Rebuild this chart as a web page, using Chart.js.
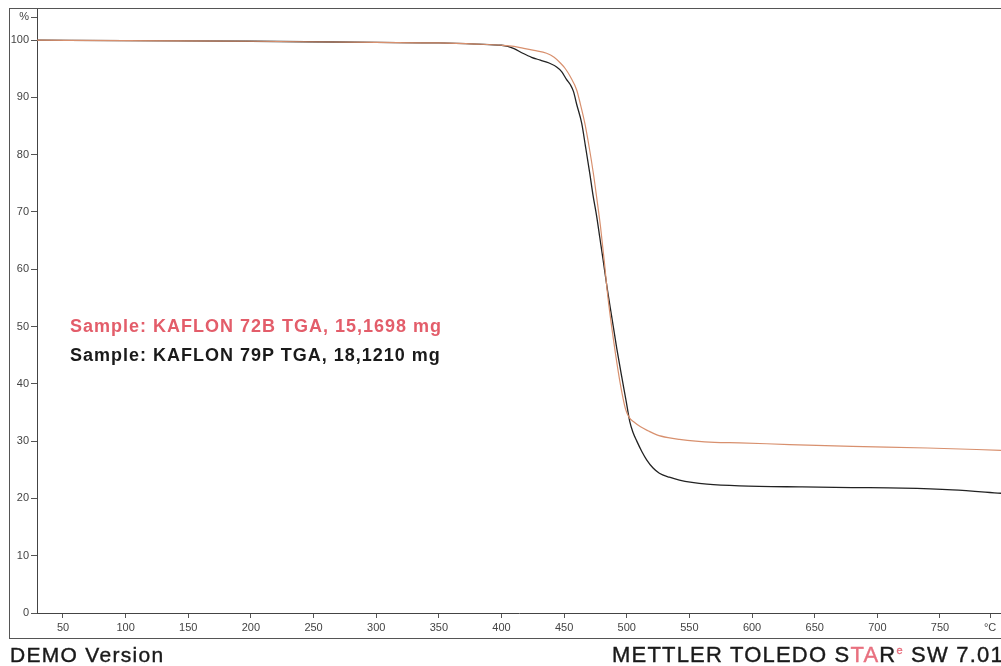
<!DOCTYPE html>
<html>
<head>
<meta charset="utf-8">
<script src="https://cdn.jsdelivr.net/npm/chart.js@4"></script>
<style>
  body { margin: 0; background: #fff; }
  #wrap { position: relative; width: 1001px; height: 666px; overflow: hidden; font-family: "Liberation Sans", Arial, sans-serif; }
  #tga { position: absolute; left: 0; top: 0; }
  .frame { position: absolute; left: 9px; top: 8px; width: 1010px; height: 629px; border: 1px solid #555; border-right: none; pointer-events: none; }
  .sample { position: absolute; left: 70px; font-size: 18px; font-weight: bold; letter-spacing: 1px; white-space: nowrap; }
  .foot { position: absolute; font-size: 21px; white-space: nowrap; color: #1a1a1a; -webkit-text-stroke: 0.4px #1a1a1a; }
  .pink { color: #e8707f; -webkit-text-stroke-color: #e8707f; }
</style>
</head>
<body>
<div id="wrap">
  <canvas id="tga" width="1001" height="666"></canvas>
  <div class="frame"></div>
  <div class="sample" style="top:316px;color:#e35d6a">Sample: KAFLON 72B TGA, 15,1698 mg</div>
  <div class="sample" style="top:345px;color:#1a1a1a">Sample: KAFLON 79P TGA, 18,1210 mg</div>
  <div class="foot" style="left:10px;top:643px;letter-spacing:1.3px">DEMO Version</div>
  <div class="foot" style="left:612px;top:642px;font-size:22px;letter-spacing:1.2px">METTLER TOLEDO S<span class="pink">TA</span>R<sup class="pink" style="font-size:11px">e</sup> SW 7.01</div>
</div>
<script>
// temperature (°C) and mass (%)
const temp72B = [29, 100, 200, 300, 350, 380, 400, 410, 417, 426, 436, 442, 447, 451, 455, 460, 463, 466.5, 470, 473.5, 476, 479, 482, 485, 489, 493, 496, 499, 502, 506, 511, 517, 524, 533, 542, 555, 570, 590, 630, 680, 740, 799];
const mass72B = [100, 99.9, 99.8, 99.6, 99.5, 99.3, 99.1, 98.9, 98.6, 98.2, 97.7, 97.0, 96.0, 95.0, 93.6, 91.3, 88.8, 85.5, 81.3, 76.5, 72.5, 67.5, 61.5, 55.0, 48.3, 42.4, 38.6, 35.6, 34.1, 33.3, 32.5, 31.8, 31.1, 30.6, 30.3, 30.0, 29.8, 29.7, 29.4, 29.1, 28.8, 28.4];

const temp79P = [29, 100, 200, 300, 350, 380, 400, 405, 410, 417, 424, 431, 438, 444, 448, 452, 455, 457.5, 460, 464, 467, 470.5, 473, 476, 478.5, 481, 484.5, 488, 492, 496, 499.5, 502.5, 505, 508, 512, 516, 521, 526, 534, 542, 552, 564, 590, 640, 680, 720, 760, 799];
const mass79P = [100, 99.9, 99.8, 99.6, 99.5, 99.3, 99.1, 98.9, 98.5, 97.7, 97.0, 96.5, 96.0, 95.3, 94.5, 93.1, 92.2, 91.0, 88.8, 85.5, 81.5, 76.7, 73.0, 69.2, 65.5, 61.8, 56.5, 51.7, 46.2, 41.2, 37.0, 33.3, 31.5, 30.0, 28.2, 26.7, 25.3, 24.4, 23.7, 23.2, 22.8, 22.5, 22.2, 22.0, 21.9, 21.8, 21.5, 20.9];

const xLabels = [50, 100, 150, 200, 250, 300, 350, 400, 450, 500, 550, 600, 650, 700, 750];
const yLabels = [0, 10, 20, 30, 40, 50, 60, 70, 80, 90, 100];

const xTicks = [];
for (let t = 30; t <= 790; t += 10) xTicks.push(t);
const yTicks = [];
for (let p = 0; p <= 104; p += 2) yTicks.push(p);

const toPoints = (xs, ys) => xs.map((x, i) => ({ x: x, y: ys[i] }));

new Chart(document.getElementById('tga'), {
  type: 'line',
  data: {
    datasets: [
      { label: 'KAFLON 72B', data: toPoints(temp72B, mass72B), borderColor: '#d8906e', borderWidth: 1.2 },
      { label: 'KAFLON 79P', data: toPoints(temp79P, mass79P), borderColor: '#222222', borderWidth: 1.3 }
    ]
  },
  options: {
    responsive: false,
    animation: false,
    layout: { padding: { top: 8, left: 0, right: 0, bottom: 0 } },
    elements: { point: { radius: 0 }, line: { cubicInterpolationMode: 'monotone' } },
    plugins: { legend: { display: false }, tooltip: { enabled: false } },
    scales: {
      x: {
        type: 'linear',
        min: 29.25,
        max: 798.7,
        afterBuildTicks: s => { s.ticks = xTicks.map(v => ({ value: v })); },
        afterFit: s => { s.height = 53; },
        border: { color: '#444', width: 1 },
        grid: { drawOnChartArea: false, tickLength: 5, tickColor: '#555' },
        ticks: {
          autoSkip: false, maxRotation: 0, padding: 3, color: '#444',
          font: { family: 'Liberation Sans', size: 11 },
          callback: v => xLabels.includes(v) ? String(v) : (v === 790 ? '°C' : null)
        }
      },
      y: {
        min: 0,
        max: 105.5,
        afterBuildTicks: s => { s.ticks = yTicks.map(v => ({ value: v })); },
        afterFit: s => { s.width = 37; },
        border: { color: '#444', width: 1 },
        grid: { drawOnChartArea: false, tickLength: 6, tickColor: '#555' },
        ticks: {
          autoSkip: false, padding: 2, color: '#444',
          font: { family: 'Liberation Sans', size: 11 },
          callback: v => yLabels.includes(v) ? String(v) : (v === 104 ? '%' : null)
        }
      }
    }
  }
});
</script>
</body>
</html>
